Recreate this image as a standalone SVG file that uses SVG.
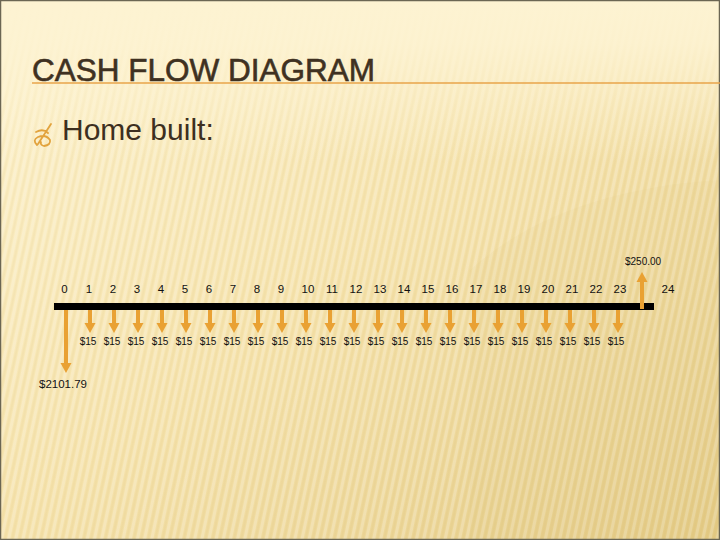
<svg xmlns="http://www.w3.org/2000/svg" width="720" height="540" viewBox="0 0 720 540">
  <defs>
    <linearGradient id="bg" x1="0" y1="0" x2="1" y2="1">
      <stop offset="0" stop-color="#fdf2cd"/>
      <stop offset="0.5" stop-color="#f5e2ab"/>
      <stop offset="1" stop-color="#e4cb86"/>
    </linearGradient>
    <linearGradient id="topfade" x1="0" y1="0" x2="0" y2="1">
      <stop offset="0" stop-color="#fdf3d2" stop-opacity="1"/>
      <stop offset="0.08" stop-color="#fdf3d2" stop-opacity="0.9"/>
      <stop offset="0.3" stop-color="#fdf3d2" stop-opacity="0"/>
    </linearGradient>
    <pattern id="stripes" width="7" height="7" patternUnits="userSpaceOnUse" patternTransform="rotate(12)">
      <rect x="0" y="0" width="3" height="7" fill="#ffffff" fill-opacity="0.22"/>
      <rect x="4" y="0" width="2" height="7" fill="#b89a4a" fill-opacity="0.06"/>
    </pattern>
    <style>
      .num{font-family:"Liberation Sans",Arial,sans-serif;font-size:11.5px;fill:#111;text-anchor:middle}
      .amt{font-family:"Liberation Sans",Arial,sans-serif;font-size:10px;fill:#111;text-anchor:middle}
      .arr{fill:#e9a133}
    </style>
    <g id="dn">
      <rect x="-2" y="310" width="4" height="14" class="arr"/>
      <polygon points="-5.5,323 5.5,323 0,333" class="arr"/>
    </g>
  </defs>

  <g id="background">
    <rect width="720" height="540" fill="url(#bg)"/>
    <rect width="720" height="540" fill="url(#stripes)"/>
    <rect width="720" height="540" fill="url(#topfade)"/>
    <path d="M470 270 Q560 190 720 180 L720 540 L470 540 Z" fill="#d9bd70" fill-opacity="0.08"/>
    <rect x="0.5" y="0.5" width="719" height="539" fill="none" stroke="#6b6653" stroke-width="1.5"/>
  </g>

  <g id="title">
    <text x="32" y="81" font-family="'Liberation Sans',Arial,sans-serif" font-size="31.5" fill="#3f3121" stroke="#3f3121" stroke-width="0.6">CASH FLOW DIAGRAM</text>
    <line x1="32" y1="83" x2="720" y2="83" stroke="#e9a54a" stroke-width="1.5"/>
  </g>

  <g id="bullet">
    <path d="M36 132 Q43 128 48 133 M51 124 L38 144 M37 145 Q32 140 38 137 Q46 134 50 140 Q51 145 44 146 Q40 145 41 142" fill="none" stroke="#e2a33d" stroke-width="1.8" stroke-linecap="round"/>
    <text x="62" y="140" font-family="'Liberation Sans',Arial,sans-serif" font-size="30" fill="#3d2f20">Home built:</text>
  </g>

  <g id="timeline">
    <rect x="54" y="303" width="600" height="7" fill="#000"/>
  </g>

  <g id="period-labels">
    <text class="num" x="64.5" y="293">0</text>
    <text class="num" x="89" y="293">1</text>
    <text class="num" x="113" y="293">2</text>
    <text class="num" x="137" y="293">3</text>
    <text class="num" x="161" y="293">4</text>
    <text class="num" x="185" y="293">5</text>
    <text class="num" x="209" y="293">6</text>
    <text class="num" x="233" y="293">7</text>
    <text class="num" x="257" y="293">8</text>
    <text class="num" x="281" y="293">9</text>
    <text class="num" x="308" y="293">10</text>
    <text class="num" x="332" y="293">11</text>
    <text class="num" x="356" y="293">12</text>
    <text class="num" x="380" y="293">13</text>
    <text class="num" x="404" y="293">14</text>
    <text class="num" x="428" y="293">15</text>
    <text class="num" x="452" y="293">16</text>
    <text class="num" x="476" y="293">17</text>
    <text class="num" x="500" y="293">18</text>
    <text class="num" x="524" y="293">19</text>
    <text class="num" x="548" y="293">20</text>
    <text class="num" x="572" y="293">21</text>
    <text class="num" x="596" y="293">22</text>
    <text class="num" x="620" y="293">23</text>
    <text class="num" x="668" y="293">24</text>
  </g>

  <g id="connectors">
    <g id="arrow-0">
      <rect x="64" y="310" width="4" height="54" class="arr"/>
      <polygon points="60.5,363 71.5,363 66,373" class="arr"/>
    </g>
    <use href="#dn" x="90"/>
    <use href="#dn" x="114"/>
    <use href="#dn" x="138"/>
    <use href="#dn" x="162"/>
    <use href="#dn" x="186"/>
    <use href="#dn" x="210"/>
    <use href="#dn" x="234"/>
    <use href="#dn" x="258"/>
    <use href="#dn" x="282"/>
    <use href="#dn" x="306"/>
    <use href="#dn" x="330"/>
    <use href="#dn" x="354"/>
    <use href="#dn" x="378"/>
    <use href="#dn" x="402"/>
    <use href="#dn" x="426"/>
    <use href="#dn" x="450"/>
    <use href="#dn" x="474"/>
    <use href="#dn" x="498"/>
    <use href="#dn" x="522"/>
    <use href="#dn" x="546"/>
    <use href="#dn" x="570"/>
    <use href="#dn" x="594"/>
    <use href="#dn" x="618"/>
    <g id="arrow-24">
      <rect x="640" y="281" width="4" height="28" class="arr"/>
      <polygon points="636.5,282 647.5,282 642,272" class="arr"/>
    </g>
  </g>

  <g id="amount-labels">
    <text class="amt" x="88" y="345">$15</text>
    <text class="amt" x="112" y="345">$15</text>
    <text class="amt" x="136" y="345">$15</text>
    <text class="amt" x="160" y="345">$15</text>
    <text class="amt" x="184" y="345">$15</text>
    <text class="amt" x="208" y="345">$15</text>
    <text class="amt" x="232" y="345">$15</text>
    <text class="amt" x="256" y="345">$15</text>
    <text class="amt" x="280" y="345">$15</text>
    <text class="amt" x="304" y="345">$15</text>
    <text class="amt" x="328" y="345">$15</text>
    <text class="amt" x="352" y="345">$15</text>
    <text class="amt" x="376" y="345">$15</text>
    <text class="amt" x="400" y="345">$15</text>
    <text class="amt" x="424" y="345">$15</text>
    <text class="amt" x="448" y="345">$15</text>
    <text class="amt" x="472" y="345">$15</text>
    <text class="amt" x="496" y="345">$15</text>
    <text class="amt" x="520" y="345">$15</text>
    <text class="amt" x="544" y="345">$15</text>
    <text class="amt" x="568" y="345">$15</text>
    <text class="amt" x="592" y="345">$15</text>
    <text class="amt" x="616" y="345">$15</text>
    <text x="39" y="388" font-family="'Liberation Sans',Arial,sans-serif" font-size="11.5" fill="#111">$2101.79</text>
    <text x="625" y="265" font-family="'Liberation Sans',Arial,sans-serif" font-size="10" fill="#111">$250.00</text>
  </g>
</svg>
